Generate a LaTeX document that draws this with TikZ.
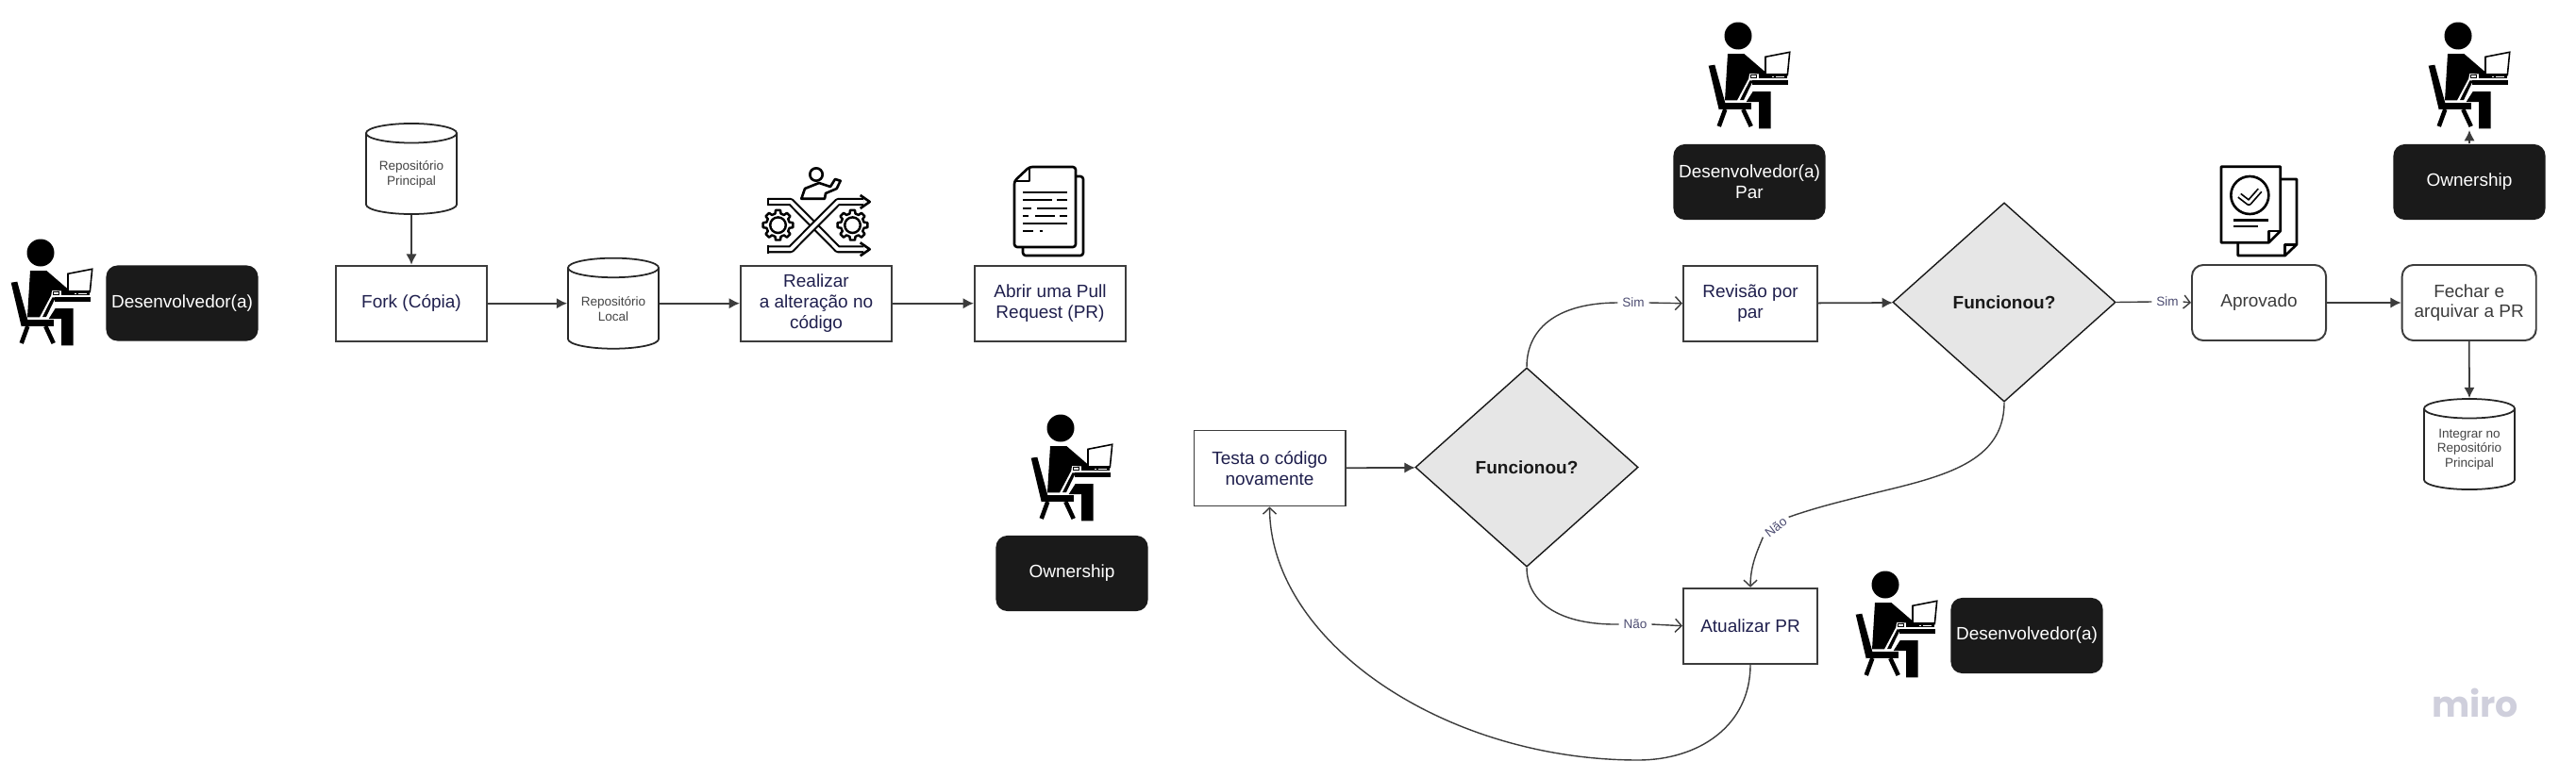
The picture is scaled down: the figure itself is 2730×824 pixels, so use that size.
\documentclass[tikz,border=0pt]{standalone}
\usepackage{fontspec}
\setmainfont{Liberation Sans}
\newfontfamily\mirofont{Poppins}
\usepackage{xcolor}
\usetikzlibrary{arrows.meta,shapes.geometric}
\definecolor{linegray}{HTML}{3C3C3C}
\definecolor{inknavy}{HTML}{1F1F4D}
\definecolor{inkgray}{HTML}{444444}
\definecolor{darkbox}{HTML}{1A1A1A}
\definecolor{diamfill}{HTML}{E6E6E6}
\definecolor{mirogray}{HTML}{CFCFDC}
\tikzset{
  person/.pic={
    \fill (0,0) circle (14.5);
    \fill (-11,19) -- (6.3,19) -- (28,37.7) -- (28,40.7) -- (12,40) -- (11.3,45) -- (-1,68.3) -- (-14,68.3) -- cycle;
    \draw[line width=.45pt,fill=white] (29,22.3) -- (54.7,17.3) -- (52.3,41.7) -- (29,41.7) -- cycle;
    \fill (22.3,40.3) rectangle (52.3,45);
    \draw[white,line width=.2pt] (36,43) -- (38,43) (40,43) -- (49,43);
    \draw[black,fill=white,line width=.2pt] (13,41) rectangle (19,44);
    \fill (14.7,47.3) rectangle (53,51.7);
    \fill (12.5,47.3) -- (16,47.3) -- (6,68) -- (2,68) -- cycle;
    \fill (15.7,59) -- (34.7,59) -- (34.7,98.3) -- (22,98.3) -- (22,70) -- (8.7,70) -- cycle;
    \fill (-20.3,71) rectangle (14,78.3);
    \fill (-31.3,31.7) -- (-24.7,30.7) -- (-13.7,71) -- (-20.3,78.3) -- cycle;
    \draw[line width=1.3pt] (-13.7,78) -- (-20.3,96) (5.3,78) -- (13.7,96);
  },
  gearwheel/.pic={
    \draw[line width=.7pt,line join=round] (-14:12.5)
      \foreach \a in {0,45,...,315}{ -- (\a-14:12.5) -- (\a-9:16) -- (\a+9:16) -- (\a+14:12.5)} -- cycle;
    \draw[line width=.7pt] (0,0) circle (8.3);
  }
}
\begin{document}
\begin{tikzpicture}[x=.01cm,y=-.01cm,
  px/.style={font=\fontsize{5.4}{6.2}\selectfont},
  boxa/.style={px,draw=linegray,line width=.55pt,fill=white,minimum width=1.6cm,minimum height=.8cm,align=center,inner sep=0pt,text=inknavy},
  boxb/.style={boxa,minimum width=1.42cm},
  boxc/.style={boxb,rounded corners=.12cm,text=linegray},
  dark/.style={px,fill=darkbox,rounded corners=.12cm,minimum width=1.61cm,minimum height=.8cm,align=center,inner sep=0pt,text=white},
  repo/.style={cylinder,anchor=shape center,shape border rotate=90,shape aspect=.3,draw=black!85,line width=.5pt,fill=white,minimum width=.96cm,minimum height=.96cm,inner sep=0pt,align=center,text=inkgray,font=\fontsize{3.85}{4.5}\selectfont},
  dec/.style={diamond,draw=black!90,line width=.4pt,fill=diamfill,minimum width=2.36cm,minimum height=2.11cm,inner sep=0pt,text=black!90,font=\fontsize{5.4}{6.2}\selectfont\bfseries},
  lbl/.style={inner sep=1.2pt,text=inknavy!80,font=\fontsize{3.85}{4.5}\selectfont},
  ar/.style={-{Latex[length=3.2pt,width=3.2pt]},line width=.5pt,draw=linegray},
  cv/.style={line width=.4pt,draw=linegray},
  cvar/.style={cv,-{Straight Barb[length=1.9pt,width=4pt]}},
  icon/.style={line width=.75pt,line join=round}]
\path[use as bounding box,fill=white] (0,0) rectangle (2730,824);
% people
\pic at (43,268) {person};
\pic at (1124,454) {person};
\pic at (1842,38) {person};
\pic at (2605,38) {person};
\pic at (1998,620) {person};
% boxes
\node[dark] (dev1) at (193,321.5) {Desenvolvedor(a)};
\node[repo] (main) at (436,179) {Repositório\\Principal};
\node[boxa] (fork) at (436,321.7) {Fork (Cópia)};
\node[repo] (local) at (650,321.7) {Repositório\\Local};
\node[boxa] (edit) at (865,321.7) {Realizar\\a alteração no\\código};
\node[boxa] (open) at (1113,321.7) {Abrir uma Pull\\Request (PR)};
\node[dark] (own2) at (1136,608) {Ownership};
\node[boxa] (test) at (1345.5,496.5) {Testa o código\\novamente};
\node[dec] (dec1) at (1618,495.5) {Funcionou?};
\node[dark] (devp) at (1854,193) {Desenvolvedor(a)\\Par};
\node[boxb] (rev) at (1855,321.7) {Revisão por\\par};
\node[boxb] (upd) at (1855,663.7) {Atualizar PR};
\node[dark] (dev2) at (2148,674) {Desenvolvedor(a)};
\node[dec] (dec2) at (2124,320.5) {Funcionou?};
\node[boxc] (appr) at (2394,321) {Aprovado};
\node[boxc] (close) at (2616.7,321) {Fechar e\\arquivar a PR};
\node[dark] (own3) at (2617,193) {Ownership};
\node[repo] (merge) at (2617,471) {Integrar no\\Repositório\\Principal};
\node[text=mirogray,font=\fontsize{10.8}{12}\mirofont\bfseries] (logo) at (2623,745) {miro};
% labels on the curves
\node[lbl] (sim1) at (1731,321) {Sim};
\node[lbl] (nao1) at (1733,662) {Não};
\node[lbl] (sim2) at (2297,320) {Sim};
\node[lbl,rotate=38] (nao2) at (1882,559) {Não};
\coordinate (who) at (2617,138);
% connectors
\draw[ar] (main.south) -- (fork.north);
\draw[ar] (fork.east) -- (local.shape center -| local.west);
\draw[ar] (local.shape center -| local.east) -- (edit.west);
\draw[ar] (edit) -- (open);
\draw[ar] (test) -- (dec1);
\draw[ar] (rev) -- (dec2);
\draw[ar] (appr) -- (close);
\draw[ar] (close.south) -- (merge.north);
\draw[ar] (own3.north) -- (who);
\draw[cv] (dec1.north) .. controls (1618,345) and (1655,321) .. (sim1.west);
\draw[cvar] (sim1.east) -- (rev.west);
\draw[cv] (dec1.south) .. controls (1618,640) and (1655,663) .. (nao1.west);
\draw[cvar] (nao1.east) -- (upd.west);
\draw[cv] (dec2.east) -- (sim2.west);
\draw[cvar] (sim2.east) -- (appr.west);
\draw[cv] (dec2.south) .. controls (2124,490) and (2060,505) .. (1990,522) .. controls (1950,532) and (1925,538) .. (nao2.east);
\draw[cvar] (nao2.west) .. controls (1862,585) and (1855,600) .. (upd.north);
\draw[cvar] (upd.south) .. controls (1855,770) and (1800,806) .. (1736,806) .. controls (1530,806) and (1346,680) .. (test.south);
% gears icon
\draw[icon] (865,185) circle (6.7);
\draw[icon] (849.3,210.7) -- (853,200) -- (868,194) -- (880,198) -- (885,190) -- (890.7,191.7) -- (886.7,200) -- (875,205) -- (874,210.7) -- cycle;
\pic at (824.5,238.7) {gearwheel};
\pic at (903.5,238.7) {gearwheel};
\foreach \ya/\yb in {214/264.3,264.3/214}{
  \draw[line width=.6pt,double=white,double distance=1.1pt,line join=round] (814,\ya) -- (838,\ya) -- (888,\yb) -- (915,\yb);
  \draw[icon] (814,\ya-4.4) -- (814,\ya+4.4);
  \draw[icon] (911.7,\yb-7) -- (921.7,\yb) -- (911.7,\yb+7);
}
% pull request icon
\draw[icon,rounded corners=.03cm] (1084,262) -- (1084,271) -- (1148,271) -- (1148,187) -- (1140,187);
\draw[icon,fill=white,rounded corners=.03cm] (1075,192) -- (1091,177) -- (1140,177) -- (1140,262) -- (1075,262) -- cycle;
\draw[icon] (1075,192) -- (1091,192) -- (1091,177);
\foreach \ya/\xa/\xb in {204/1084/1131,212/1084/1115,212/1120/1131,221/1084/1093.3,221/1099.3/1131,229/1084/1090,229/1096.7/1117.7,229/1123.3/1131,237/1084/1131,245/1084/1095,245/1101.7/1105}
  \draw[icon] (\xa,\ya) -- (\xb,\ya);
% approved icon
\draw[icon] (2416.7,190) -- (2434,190) -- (2434,259.3) -- (2421.7,271) -- (2371.7,271) -- (2371.7,257.3);
\draw[icon] (2421.7,271) -- (2421.7,259.3) -- (2434,259.3);
\draw[icon,fill=white] (2354,176.7) -- (2416.7,176.7) -- (2416.7,245) -- (2404.3,257.3) -- (2354,257.3) -- cycle;
\draw[icon] (2404.3,257.3) -- (2404.3,245) -- (2416.7,245);
\draw[icon] (2384.3,207) circle (20);
\draw[line width=.5pt,double=white,double distance=.8pt,line join=round] (2373.3,207.3) -- (2383.3,215) -- (2395,201.7);
\draw[icon] (2367.3,233.3) -- (2404,233.3);
\draw[icon] (2367.3,240) -- (2393.3,240);
\end{tikzpicture}
\end{document}
